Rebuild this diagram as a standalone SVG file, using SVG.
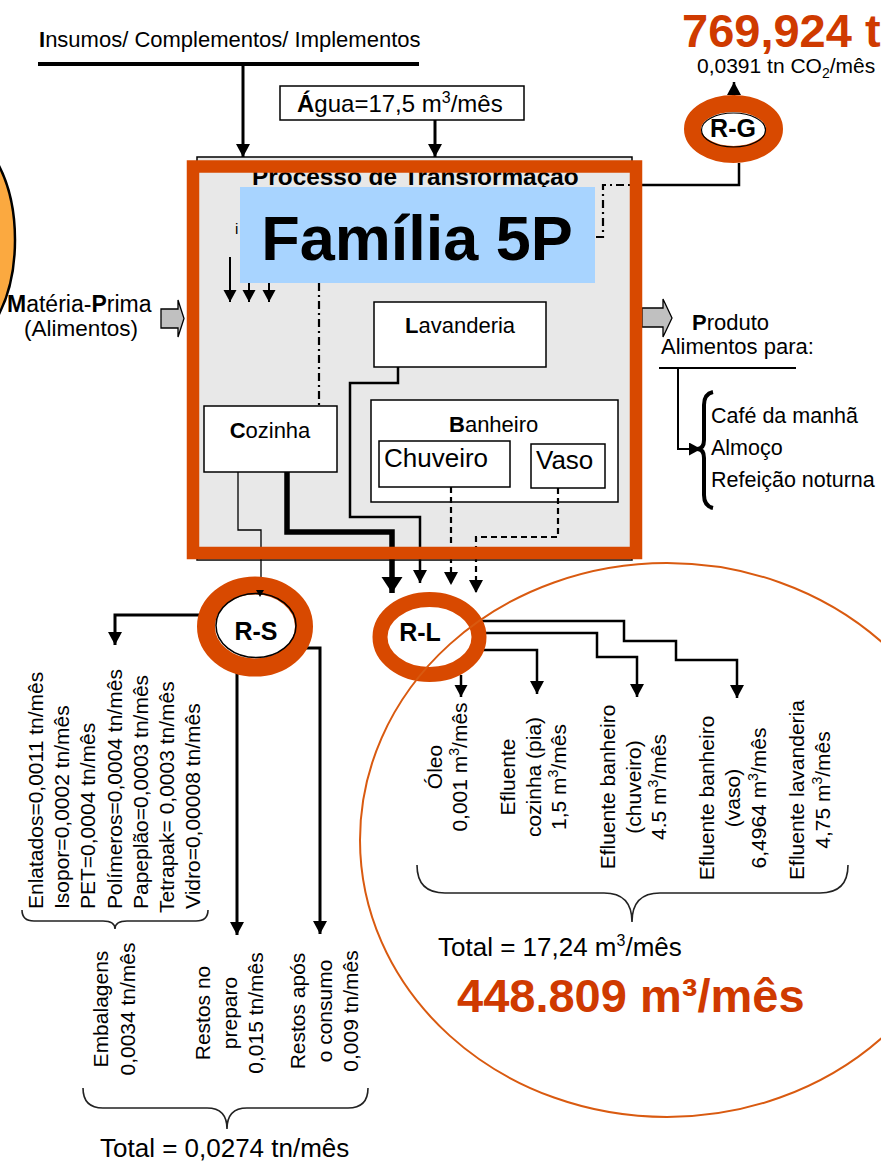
<svg xmlns="http://www.w3.org/2000/svg" width="881" height="1162" viewBox="0 0 881 1162">
<style>
text{font-family:"Liberation Sans",Arial,sans-serif;fill:#000}
.b{font-weight:bold}
.f22{font-size:22px}
.rot{font-size:21px;text-anchor:middle}
.box{fill:#fff;stroke:#000;stroke-width:1.5}
.ln{fill:none;stroke:#000}
.ring{fill:#fff;stroke:#d84900}
.brace{fill:none;stroke:#222;stroke-width:1.6}
.big{fill:#cf3a00;font-weight:bold}
</style>
<defs>
<marker id="ah" markerUnits="userSpaceOnUse" markerWidth="16" markerHeight="16" refX="13" refY="7" orient="auto"><path d="M0,0 L13,7 L0,14 z" fill="#000"/></marker>
<marker id="ahS" markerUnits="userSpaceOnUse" markerWidth="14" markerHeight="14" refX="12" refY="6.5" orient="auto"><path d="M0,0 L12,6.5 L0,13 z" fill="#000"/></marker>
<marker id="ahB" markerUnits="userSpaceOnUse" markerWidth="20" markerHeight="24" refX="16" refY="10.5" orient="auto"><path d="M0,0 L16,10.5 L0,21 z" fill="#000"/></marker>
</defs>
<rect width="881" height="1162" fill="#fff"/>

<g id="source-ellipse">
<ellipse cx="-45" cy="240" rx="60" ry="109" fill="#fba940" stroke="#000" stroke-width="2.5"/>
</g>

<g id="insumos">
<text class="f22" x="39" y="47"><tspan class="b">I</tspan>nsumos/ Complementos/ Implementos</text>
<line x1="38" y1="64" x2="419" y2="64" stroke="#000" stroke-width="4"/>
</g>

<g id="agua">
<rect x="280" y="86" width="244" height="34" class="box"/>
<text x="297" y="112" style="font-size:24px"><tspan class="b">Á</tspan>gua=17,5 m<tspan dy="-9" style="font-size:16px">3</tspan><tspan dy="9">/mês</tspan></text>
</g>

<g id="processo">
<rect x="197" y="157" width="435" height="403" fill="#e8e8e8" stroke="#000" stroke-width="1.5"/>
<text class="b" x="252" y="185" style="font-size:24.4px">Processo de Transformação</text>
<text x="235" y="234" style="font-size:15px">i</text>
</g>

<g id="materia-prima">
<text x="7" y="312" style="font-size:23px"><tspan class="b">M</tspan>atéria-<tspan class="b">P</tspan>rima</text>
<text x="81" y="336" style="font-size:22.5px;text-anchor:middle">(Alimentos)</text>
</g>

<g id="lavanderia">
<rect x="374" y="302" width="172" height="65" class="box"/>
<text class="f22" x="405" y="333"><tspan class="b">L</tspan>avanderia</text>
</g>

<g id="banheiro">
<rect x="371" y="400" width="247" height="102" class="box"/>
<text class="f22" x="449" y="432"><tspan class="b">B</tspan>anheiro</text>
</g>
<g id="chuveiro">
<rect x="379" y="441" width="131" height="46" class="box"/>
<text x="384" y="467" style="font-size:26px">Chuveiro</text>
</g>
<g id="vaso">
<rect x="531" y="444" width="74" height="44" class="box"/>
<text x="536" y="469" style="font-size:26px">Vaso</text>
</g>

<g id="cozinha">
<rect x="204" y="406" width="133" height="66" class="box"/>
<text class="f22" x="270" y="438" style="text-anchor:middle"><tspan class="b">C</tspan>ozinha</text>
</g>

<g id="connectors">
<path class="ln" d="M243,64 V157" stroke-width="3" marker-end="url(#ah)"/>
<path class="ln" d="M435,120 V157" stroke-width="3" marker-end="url(#ah)"/>
<path class="ln" d="M230,257 V302" stroke-width="2" marker-end="url(#ahS)"/>
<path class="ln" d="M249,257 V302" stroke-width="2" marker-end="url(#ahS)"/>
<path class="ln" d="M269,257 V302" stroke-width="2" marker-end="url(#ahS)"/>
<path class="ln" d="M319,283 V405" stroke-width="2.2" stroke-dasharray="8 4 2 4"/>
<path class="ln" d="M596,237 H603 V185 H632" stroke-width="2.2" stroke-dasharray="8 4 2 4"/>
<path class="ln" d="M632,185 H739 V163" stroke-width="2.5"/>
<path class="ln" d="M734,96 V82" stroke-width="2.5" marker-end="url(#ah)"/>
<path class="ln" d="M398,367 V383 H350 V517 H420 V583" stroke-width="2.5" marker-end="url(#ah)"/>
<path class="ln" d="M287,472 V532 H392 V593" stroke-width="5.5" marker-end="url(#ahB)"/>
<path class="ln" d="M238,472 V530 H261 V585" stroke-width="1.3"/>
<path class="ln" d="M451,487 V585" stroke-width="2.2" stroke-dasharray="6 4" marker-end="url(#ah)"/>
<path class="ln" d="M558,488 V537 H476 V593" stroke-width="2.2" stroke-dasharray="6 4" marker-end="url(#ah)"/>
<path d="M161,309 H178 V300 L184,318.5 L178,337 V328 H161 Z" fill="#c0c0c0" stroke="#000" stroke-width="1.3"/>
<path d="M642,308 H663 V299 L672,318 L663,337 V327 H642 Z" fill="#c0c0c0" stroke="#000" stroke-width="1.3"/>
<path class="ln" d="M678,368 V449 H701" stroke-width="2" marker-end="url(#ahS)"/>
<path class="ln" d="M220,615 H115 V645" stroke-width="3" marker-end="url(#ah)"/>
<path class="ln" d="M237,650 V935" stroke-width="3" marker-end="url(#ah)"/>
<path class="ln" d="M290,648 H320 V934" stroke-width="3" marker-end="url(#ah)"/>
<path class="ln" d="M470,621 H624 V641 H676 V660 H737 V698" stroke-width="2.5" marker-end="url(#ah)"/>
<path class="ln" d="M470,633 H597 V657 H637 V697" stroke-width="2.5" marker-end="url(#ah)"/>
<path class="ln" d="M470,650 H537 V694" stroke-width="2.5" marker-end="url(#ah)"/>
<path class="ln" d="M461,675 V697" stroke-width="2.5" marker-end="url(#ahS)"/>
</g>

<g id="frame-familia">
<rect x="193" y="166.5" width="443" height="386.5" fill="none" stroke="#d84900" stroke-width="12.5"/>
<rect x="240" y="187" width="355" height="96" fill="#a8d4ff"/>
<text class="b" x="417" y="260" style="font-size:63px;text-anchor:middle">Família 5P</text>
</g>

<g id="produto">
<text class="f22" x="692" y="330"><tspan class="b">P</tspan>roduto</text>
<text class="f22" x="661" y="354">Alimentos para:</text>
<line x1="659" y1="368" x2="796" y2="368" stroke="#000" stroke-width="2"/>
<path d="M713,392 Q704,394 704,405 V440 Q704,449 697,449 Q704,449 704,458 V495 Q704,506 713,508" fill="none" stroke="#000" stroke-width="4"/>
<text x="711" y="423" style="font-size:21.5px">Café da manhã</text>
<text x="711" y="455" style="font-size:21.5px">Almoço</text>
<text x="711" y="487" style="font-size:21.5px">Refeição noturna</text>
</g>

<g id="R-G">
<ellipse cx="733.5" cy="129" rx="41" ry="25.5" class="ring" stroke-width="17"/>
<ellipse cx="733.5" cy="130" rx="32" ry="17" fill="none" stroke="#000" stroke-width="1.2"/>
<text class="b" x="733" y="137" style="font-size:25px;text-anchor:middle">R-G</text>
</g>
<g id="co2">
<text class="big" x="682" y="47" style="font-size:47px">769,924 ton</text>
<text x="697" y="73" style="font-size:21px">0,0391 tn CO<tspan dy="5" style="font-size:14px">2</tspan><tspan dy="-5">/mês</tspan></text>
</g>

<g id="R-S">
<ellipse cx="255" cy="626.5" rx="49" ry="41" class="ring" stroke-width="18"/>
<ellipse cx="256" cy="625.5" rx="40" ry="32" fill="none" stroke="#000" stroke-width="1.5"/>
<path d="M256,590 L264,590 L260,597 z" fill="#000"/>
<text class="b" x="256" y="640" style="font-size:25px;text-anchor:middle">R-S</text>
</g>

<g id="R-L">
<ellipse cx="429.5" cy="637" rx="49.5" ry="37.5" class="ring" stroke-width="15"/>
<text class="b" x="420" y="641" style="font-size:25px;text-anchor:middle">R-L</text>
</g>

<g id="liquid-circle">
<ellipse cx="667" cy="840" rx="307" ry="277" fill="none" stroke="#d95a10" stroke-width="2"/>
</g>

<g id="solidos-labels">
<text class="rot" style="text-anchor:start" transform="translate(43,909) rotate(-90)">
<tspan x="0" y="0">Enlatados=0,0011 tn/mês</tspan>
<tspan x="0" y="26.2">Isopor=0,0002 tn/mês</tspan>
<tspan x="0" y="52.4">PET=0,0004 tn/mês</tspan>
<tspan x="0" y="78.6">Polímeros=0,0004 tn/mês</tspan>
<tspan x="0" y="104.8">Papeplão=0,0003 tn/mês</tspan>
<tspan x="-4" y="131">Tetrapak= 0,0003 tn/mês</tspan>
<tspan x="0" y="157.2">Vidro=0,00008 tn/mês</tspan>
</text>
<path class="brace" d="M22,910 Q22,921 34,921 H103 Q115,921 115,929 Q115,921 127,921 H196 Q208,921 208,910"/>
<text class="rot" transform="translate(108,1009) rotate(-90)"><tspan x="0" y="0">Embalagens</tspan><tspan x="0" y="27">0,0034 tn/mês</tspan></text>
<text class="rot" transform="translate(210,1013) rotate(-90)"><tspan x="0" y="0">Restos no</tspan><tspan x="0" y="26.5">preparo</tspan><tspan x="0" y="53">0,015 tn/mês</tspan></text>
<text class="rot" transform="translate(305,1011) rotate(-90)"><tspan x="0" y="0">Restos após</tspan><tspan x="0" y="26.5">o consumo</tspan><tspan x="0" y="53">0,009 tn/mês</tspan></text>
<path class="brace" d="M83,1088 Q83,1108 103,1108 H207 Q227,1108 227,1129 Q227,1108 247,1108 H348 Q368,1108 368,1088"/>
<text x="100" y="1157" style="font-size:26px">Total = 0,0274 tn/mês</text>
</g>

<g id="liquidos-labels">
<text class="rot" transform="translate(442,767) rotate(-90)"><tspan x="0" y="0">Óleo</tspan><tspan x="0" y="25">0,001 m<tspan dy="-8" style="font-size:14px">3</tspan><tspan dy="8">/mês</tspan></tspan></text>
<text class="rot" transform="translate(515,777) rotate(-90)"><tspan x="0" y="0">Efluente</tspan><tspan x="0" y="25.5">cozinha (pia)</tspan><tspan x="0" y="51">1,5 m<tspan dy="-8" style="font-size:14px">3</tspan><tspan dy="8">/mês</tspan></tspan></text>
<text class="rot" transform="translate(615,787) rotate(-90)"><tspan x="0" y="0">Efluente banheiro</tspan><tspan x="0" y="25.5">(chuveiro)</tspan><tspan x="0" y="51">4.5 m<tspan dy="-8" style="font-size:14px">3</tspan><tspan dy="8">/mês</tspan></tspan></text>
<text class="rot" transform="translate(714,798) rotate(-90)"><tspan x="0" y="0">Efluente banheiro</tspan><tspan x="0" y="25.5">(vaso)</tspan><tspan x="0" y="52">6,4964 m<tspan dy="-8" style="font-size:14px">3</tspan><tspan dy="8">/mês</tspan></tspan></text>
<text class="rot" transform="translate(804,790) rotate(-90)"><tspan x="0" y="0">Efluente lavanderia</tspan><tspan x="0" y="26">4,75 m<tspan dy="-8" style="font-size:14px">3</tspan><tspan dy="8">/mês</tspan></tspan></text>
<path class="brace" d="M417,865 Q417,893 445,893 H604 Q632,893 632,922 Q632,893 660,893 H820 Q848,893 848,865"/>
<text x="438" y="956" style="font-size:26px">Total = 17,24 m<tspan dy="-10" style="font-size:16px">3</tspan><tspan dy="10">/mês</tspan></text>
<text class="big" x="457" y="1012" style="font-size:47px">448.809 m³/mês</text>
</g>
</svg>
